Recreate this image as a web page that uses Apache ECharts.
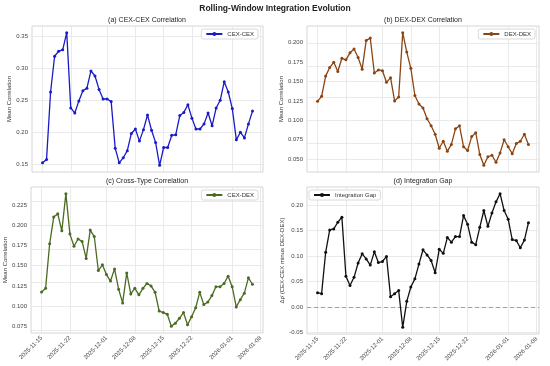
<!DOCTYPE html>
<html><head><meta charset="utf-8">
<script src="https://cdn.jsdelivr.net/npm/echarts@6/dist/echarts.min.js"></script>
<style>html,body{margin:0;padding:0;background:#fff}#c{width:550px;height:366px}</style>
</head><body><div id="c"></div>
<script>
const dates = ['2025-11-15','2025-11-16','2025-11-17','2025-11-18','2025-11-19','2025-11-20','2025-11-21','2025-11-22','2025-11-23','2025-11-24',
'2025-11-25','2025-11-26','2025-11-27','2025-11-28','2025-11-29','2025-11-30','2025-12-01','2025-12-02','2025-12-03','2025-12-04',
'2025-12-05','2025-12-06','2025-12-07','2025-12-08','2025-12-09','2025-12-10','2025-12-11','2025-12-12','2025-12-13','2025-12-14',
'2025-12-15','2025-12-16','2025-12-17','2025-12-18','2025-12-19','2025-12-20','2025-12-21','2025-12-22','2025-12-23','2025-12-24',
'2025-12-25','2025-12-26','2025-12-27','2025-12-28','2025-12-29','2025-12-30','2025-12-31','2026-01-01','2026-01-02','2026-01-03',
'2026-01-04','2026-01-05','2026-01-06'];
const cexCex = [0.152,0.157,0.263,0.319,0.327,0.329,0.356,0.238,0.230,0.249,
0.265,0.269,0.296,0.288,0.267,0.252,0.252,0.248,0.175,0.152,
0.160,0.171,0.198,0.205,0.186,0.204,0.227,0.203,0.184,0.148,
0.176,0.176,0.195,0.196,0.226,0.231,0.243,0.222,0.205,0.205,
0.213,0.230,0.210,0.238,0.250,0.279,0.263,0.237,0.188,0.200,
0.191,0.213,0.233];
const dexDex = [0.1245,0.131,0.157,0.168,0.175,0.163,0.180,0.178,0.187,0.192,
0.181,0.166,0.203,0.206,0.161,0.165,0.164,0.149,0.155,0.125,
0.130,0.213,0.188,0.167,0.132,0.121,0.116,0.102,0.093,0.082,
0.064,0.073,0.060,0.069,0.089,0.093,0.066,0.061,0.079,0.084,
0.056,0.042,0.053,0.055,0.046,0.058,0.075,0.066,0.057,0.070,
0.073,0.082,0.069];
const cexDex = [0.1176,0.122,0.177,0.210,0.214,0.193,0.239,0.189,0.174,0.183,
0.180,0.159,0.194,0.186,0.144,0.151,0.139,0.131,0.146,0.121,
0.104,0.141,0.115,0.122,0.114,0.122,0.128,0.125,0.117,0.094,
0.092,0.090,0.075,0.079,0.085,0.092,0.077,0.087,0.098,0.117,
0.102,0.105,0.113,0.124,0.124,0.128,0.137,0.124,0.099,0.108,
0.116,0.135,0.127];
const gap = [0.028,0.026,0.107,0.151,0.153,0.166,0.176,0.060,0.042,0.058,
0.086,0.104,0.094,0.082,0.108,0.087,0.089,0.099,0.020,0.026,
0.032,-0.040,0.011,0.039,0.055,0.084,0.112,0.102,0.091,0.067,
0.113,0.105,0.136,0.127,0.138,0.138,0.179,0.162,0.127,0.122,
0.156,0.189,0.158,0.184,0.206,0.222,0.189,0.172,0.132,0.130,
0.116,0.131,0.165];
const xTickLabels = ['2025-11-15','2025-11-22','2025-12-01','2025-12-08','2025-12-15','2025-12-22','2026-01-01','2026-01-08'];
const yTicksA = [0.15,0.20,0.25,0.30,0.35];
const yTicksB = [0.050,0.075,0.100,0.125,0.150,0.175,0.200];
const yTicksC = [0.075,0.100,0.125,0.150,0.175,0.200,0.225];
const yTicksD = [-0.05,0.00,0.05,0.10,0.15,0.20];

const DAY = 86400000;
const t0 = Date.parse(dates[0]);
const dayOf = s => (Date.parse(s) - t0) / DAY;
const xTickDays = xTickLabels.map(dayOf);
const labelByDay = {};
xTickLabels.forEach(s => labelByDay[Math.round(dayOf(s))] = s);
const pairs = arr => arr.map((v, i) => [dayOf(dates[i]), v]);

const FONT = 'Liberation Sans';
const GRIDC = '#e4e4e4';
const grids = [
  {left: 32, top: 26, width: 231, height: 146},
  {left: 307, top: 26, width: 232, height: 146},
  {left: 31, top: 187, width: 232, height: 146},
  {left: 307, top: 187, width: 232, height: 147}
].map(g => Object.assign(g, {show: true, borderColor: '#cccccc', borderWidth: 0.8, backgroundColor: '#fff'}));

function xAxis(i, showLabels) {
  return {
    type: 'value', gridIndex: i, min: -2.6, max: 54.6,
    axisLine: {show: false},
    axisTick: {show: false, customValues: xTickDays},
    splitLine: {show: false},
    axisLabel: {show: showLabels, customValues: xTickDays, rotate: 45, fontSize: 6, color: '#444', fontFamily: FONT, margin: 4,
      formatter: v => labelByDay[Math.round(v)] || ''}
  };
}
function yAxis(i, min, max, ticks, dec, name, nameGap) {
  return {
    type: 'value', gridIndex: i, min: min, max: max,
    name: name, nameLocation: 'middle', nameGap: nameGap,
    nameTextStyle: {fontSize: 6, color: '#333', fontFamily: FONT},
    axisLine: {show: false},
    axisTick: {show: false, customValues: ticks},
    splitLine: {show: false},
    axisLabel: {customValues: ticks, fontSize: 6, color: '#444', fontFamily: FONT, margin: 4,
      formatter: v => v.toFixed(dec)}
  };
}
function gridSeries(i, arr, yTicks) {
  return {
    type: 'line', name: '_grid' + i, xAxisIndex: i, yAxisIndex: i, data: pairs(arr),
    showSymbol: false, symbol: 'none', lineStyle: {opacity: 0}, silent: true, z: 1,
    markLine: {silent: true, symbol: 'none', z: 1, animation: false, label: {show: false},
      lineStyle: {color: GRIDC, type: 'solid', width: 0.8},
      data: xTickDays.map(d => ({xAxis: d})).concat(yTicks.map(v => ({yAxis: v})))}
  };
}
function lineSeries(i, name, color, arr, extra) {
  return Object.assign({
    type: 'line', name: name, xAxisIndex: i, yAxisIndex: i, data: pairs(arr),
    symbol: 'circle', symbolSize: 3, showSymbol: true, z: 3,
    lineStyle: {color: color, width: 1.3}, itemStyle: {color: color},
    animation: false
  }, extra || {});
}
function legend(name, pos) {
  return Object.assign({
    data: [name], orient: 'horizontal', itemWidth: 16, itemHeight: 5, itemGap: 4,
    backgroundColor: '#fff', borderColor: '#d0d0d0', borderWidth: 0.8, borderRadius: 2,
    padding: [2, 4, 2, 4], z: 10,
    textStyle: {fontSize: 6, color: '#333', fontFamily: FONT}
  }, pos);
}
function title(text, x, y, size, bold) {
  return {text: text, left: x, top: y, textAlign: 'center', padding: 0,
    textStyle: {fontSize: size, fontWeight: bold ? 'bold' : 'normal', color: '#222', fontFamily: FONT}};
}

const chart = echarts.init(document.getElementById('c'), null, {renderer: 'canvas'});
chart.setOption({
  backgroundColor: '#fff',
  animation: false,
  title: [
    title('Rolling-Window Integration Evolution', 275, 4, 8.5, true),
    title('(a) CEX-CEX Correlation', 147, 16.5, 7),
    title('(b) DEX-DEX Correlation', 423, 16.5, 7),
    title('(c) Cross-Type Correlation', 147, 178, 7),
    title('(d) Integration Gap', 423, 178, 7)
  ],
  grid: grids,
  legend: [
    legend('CEX-CEX', {right: 292, top: 29}),
    legend('DEX-DEX', {right: 15, top: 29}),
    legend('CEX-DEX', {right: 292, top: 190}),
    legend('Integration Gap', {left: 309, top: 190})
  ],
  xAxis: [xAxis(0, false), xAxis(1, false), xAxis(2, true), xAxis(3, true)],
  yAxis: [
    yAxis(0, 0.1376, 0.3664, yTicksA, 2, 'Mean Correlation', 20),
    yAxis(1, 0.0334, 0.2216, yTicksB, 3, 'Mean Correlation', 21),
    yAxis(2, 0.0668, 0.2472, yTicksC, 3, 'Mean Correlation', 21),
    yAxis(3, -0.0531, 0.2351, yTicksD, 2, 'Δρ̄ (CEX-CEX minus DEX-DEX)', 21)
  ],
  series: [
    gridSeries(0, cexCex, yTicksA),
    gridSeries(1, dexDex, yTicksB),
    gridSeries(2, cexDex, yTicksC),
    gridSeries(3, gap, yTicksD),
    lineSeries(0, 'CEX-CEX', '#1a1ac8', cexCex),
    lineSeries(1, 'DEX-DEX', '#8b4513', dexDex),
    lineSeries(2, 'CEX-DEX', '#4b6b22', cexDex),
    lineSeries(3, 'Integration Gap', '#111111', gap, {
      markLine: {silent: true, symbol: 'none', z: 2, label: {show: false}, animation: false,
        lineStyle: {color: '#999', type: [4, 3], width: 0.9}, data: [{yAxis: 0}]}
    })
  ]
});
</script></body></html>
